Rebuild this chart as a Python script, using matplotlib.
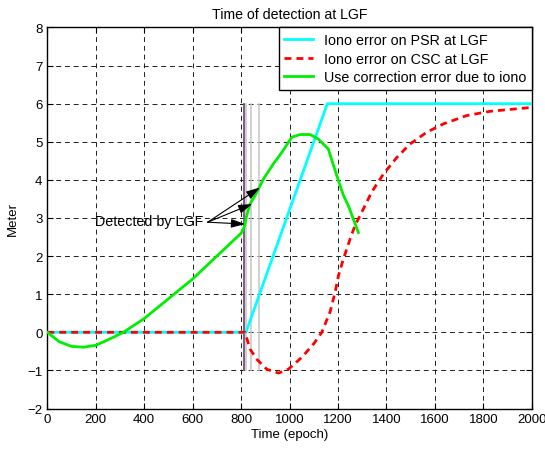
import matplotlib
matplotlib.use("Agg")
import matplotlib.pyplot as plt
import numpy as np

plt.rcParams['font.family'] = ['Liberation Sans', 'DejaVu Sans']

# Data
psr_x = [0, 820, 1156, 2000]
psr_y = [0, 0, 6, 6]

csc_x = [0, 816, 837, 865, 906, 954, 995, 1050, 1100, 1133, 1167, 1188, 1202, 1222, 1250,
         1270, 1298, 1325, 1339, 1387, 1443, 1497, 1566, 1635, 1732, 1828, 1979, 2000]
csc_y = [0, 0, -0.44, -0.71, -0.97, -1.07, -0.97, -0.66, -0.3, 0.0, 0.53, 1.05, 1.49, 1.92, 2.45,
         2.8, 3.15, 3.5, 3.68, 4.15, 4.59, 4.94, 5.25, 5.47, 5.69, 5.80, 5.89, 5.90]

corr_x = [0, 50, 100, 150, 200, 250, 314, 400, 500, 600, 700, 750, 800, 812, 823, 837,
          858, 892, 933, 968, 1009, 1043, 1085, 1119, 1160, 1195, 1222, 1243, 1284]
corr_y = [0, -0.25, -0.37, -0.39, -0.34, -0.2, 0, 0.36, 0.88, 1.4, 2.0, 2.3, 2.6, 2.75, 3.06, 3.37,
          3.59, 4.02, 4.42, 4.72, 5.12, 5.19, 5.19, 5.07, 4.81, 4.11, 3.6, 3.32, 2.62]

detect_purple = [814]
detect_gray = [821, 840, 875]
vline_range = (-1, 6)

arrow_targets_x = [816, 846, 878]
arrow_targets_y = [2.84, 3.37, 3.80]
label_pos = (197, 2.92)
arrow_origin = (662, 2.89)

fig = plt.figure(figsize=(5.45, 4.52), dpi=100)
ax = fig.add_axes([0.0868, 0.094, 0.889, 0.843])

for gx in detect_gray:
    ax.plot([gx, gx], vline_range, color='#c8c8c8', lw=1.2, zorder=2)
for px in detect_purple:
    ax.plot([px, px], vline_range, color='#7a4a78', lw=1.3, zorder=2)

ax.plot(psr_x, psr_y, color='#00ffff', lw=2, label='Iono error on PSR at LGF', zorder=3)
ax.plot(csc_x, csc_y, color='#ff0000', lw=2, linestyle=(0, (2.5, 1.8)),
        label='Iono error on CSC at LGF', zorder=4)
ax.plot(corr_x, corr_y, color='#00ee00', lw=2, label='Use correction error due to iono', zorder=5)

ax.text(label_pos[0], label_pos[1], 'Detected by LGF', fontsize=10.3, ha='left', va='center', zorder=6)
for tx, ty in zip(arrow_targets_x, arrow_targets_y):
    ax.annotate('', xy=(tx, ty), xytext=arrow_origin,
                arrowprops=dict(arrowstyle='-|>,head_length=0.7,head_width=0.22', color='black', lw=0.8,
                                mutation_scale=12, shrinkA=0, shrinkB=0), zorder=6)

ax.set_xlim(0, 2000)
ax.set_ylim(-2, 8)
ax.set_xticks(np.arange(0, 2001, 200))
ax.set_yticks(np.arange(-2, 9, 1))
ax.tick_params(direction='in', top=True, right=True, labelsize=9.5, length=4, width=0.8)
ax.grid(True, color='#202020', linestyle=(0, (5, 4)), lw=0.7)
for s in ax.spines.values():
    s.set_linewidth(1.0)

ax.set_xlabel('Time (epoch)', fontsize=9.5, labelpad=2)
ax.set_ylabel('Meter', fontsize=9.5, labelpad=6)
ax.set_title('Time of detection at LGF', fontsize=10.2, pad=7)

leg = ax.legend(loc='upper right', fontsize=10.3, frameon=True, fancybox=False,
                edgecolor='black', framealpha=1, borderaxespad=0.0, handlelength=2.0,
                labelspacing=0.32, borderpad=0.4, handletextpad=0.75)
leg.get_frame().set_linewidth(1.0)

fig.savefig('out.png', dpi=100)
